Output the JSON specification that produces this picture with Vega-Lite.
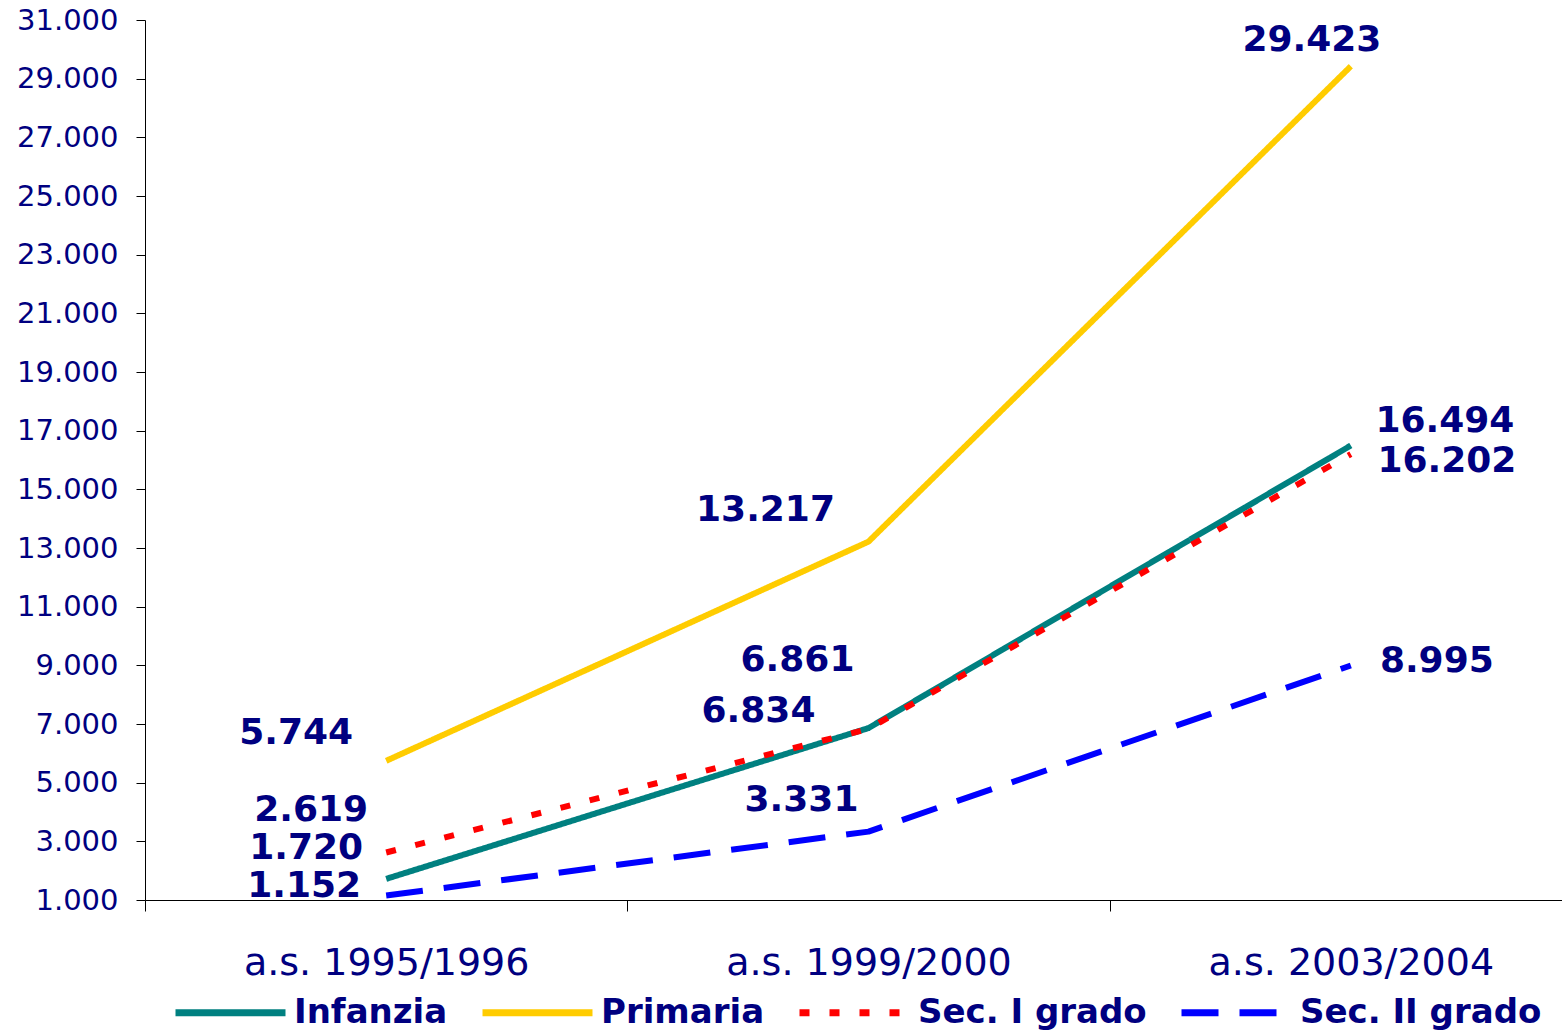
{
  "$schema": "https://vega.github.io/schema/vega-lite/v6.json",
  "width": 1447,
  "height": 880,
  "padding": {"left": 16, "top": 6, "right": 0, "bottom": 0},
  "background": "white",
  "config": {
    "view": {"stroke": null},
    "font": "DejaVu Sans",
    "locale": {"number": {"decimal": ",", "thousands": ".", "grouping": [3], "currency": ["", " €"]}}
  },
  "data": {
    "values": [
      {"a": "a.s. 1995/1996", "s": "Infanzia", "v": 1720},
      {"a": "a.s. 1999/2000", "s": "Infanzia", "v": 6861},
      {"a": "a.s. 2003/2004", "s": "Infanzia", "v": 16494},
      {"a": "a.s. 1995/1996", "s": "Primaria", "v": 5744},
      {"a": "a.s. 1999/2000", "s": "Primaria", "v": 13217},
      {"a": "a.s. 2003/2004", "s": "Primaria", "v": 29423},
      {"a": "a.s. 1995/1996", "s": "Sec. I grado", "v": 2619},
      {"a": "a.s. 1999/2000", "s": "Sec. I grado", "v": 6834},
      {"a": "a.s. 2003/2004", "s": "Sec. I grado", "v": 16202},
      {"a": "a.s. 1995/1996", "s": "Sec. II grado", "v": 1152},
      {"a": "a.s. 1999/2000", "s": "Sec. II grado", "v": 3331},
      {"a": "a.s. 2003/2004", "s": "Sec. II grado", "v": 8995}
    ]
  },
  "encoding": {
    "x": {
      "field": "a",
      "type": "ordinal",
      "sort": null,
      "scale": {"type": "band", "paddingInner": 0, "paddingOuter": 0},
      "axis": {
        "title": null,
        "labelAngle": 0,
        "labelFontSize": 38,
        "labelColor": "#000080",
        "labelPadding": 33,
        "labelLimit": 0,
        "tickBand": "extent",
        "tickSize": 11,
        "tickColor": "#000000",
        "domainColor": "#000000",
        "domainWidth": 1,
        "tickWidth": 1,
        "grid": false
      }
    },
    "y": {
      "field": "v",
      "type": "quantitative",
      "scale": {"domain": [1000, 31000], "nice": false, "zero": false},
      "axis": {
        "title": null,
        "values": [1000, 3000, 5000, 7000, 9000, 11000, 13000, 15000, 17000, 19000, 21000, 23000, 25000, 27000, 29000, 31000],
        "format": ",d",
        "labelFontSize": 29,
        "labelColor": "#000080",
        "labelPadding": 18,
        "tickSize": 9,
        "tickColor": "#000000",
        "domainColor": "#000000",
        "grid": false
      }
    }
  },
  "layer": [
    {
      "mark": {"type": "line", "strokeWidth": 6, "strokeCap": "butt", "strokeJoin": "round"},
      "encoding": {
        "color": {
          "field": "s",
          "type": "nominal",
          "scale": {"domain": ["Infanzia", "Primaria", "Sec. I grado", "Sec. II grado"], "range": ["#008080", "#FFCC00", "#FF0000", "#0000FF"]},
          "legend": {
            "title": null,
            "orient": "none",
            "legendX": 27,
            "legendY": 934,
            "direction": "horizontal",
            "columns": 4,
            "columnPadding": 20,
            "symbolType": "stroke",
            "symbolSize": 12100,
            "symbolStrokeWidth": 7,
            "labelFontSize": 34,
            "labelFontWeight": "bold",
            "labelColor": "#000080",
            "labelOffset": 5,
            "labelLimit": 400
          }
        },
        "strokeDash": {
          "field": "s",
          "type": "nominal",
          "scale": {"domain": ["Infanzia", "Primaria", "Sec. I grado", "Sec. II grado"], "range": [[1, 0], [1, 0], [10, 20], [37, 21]]},
          "legend": null
        }
      }
    },
    {
      "mark": {
        "type": "text",
        "fontSize": 36,
        "fontWeight": "bold",
        "color": "#000080",
        "align": "center",
        "baseline": "middle",
        "dx": {"expr": "datum.s=='Infanzia' ? (datum.a=='a.s. 1995/1996' ? -80 : datum.a=='a.s. 1999/2000' ? -71 : 94) : datum.s=='Primaria' ? (datum.a=='a.s. 1995/1996' ? -90 : datum.a=='a.s. 1999/2000' ? -103 : -39) : datum.s=='Sec. I grado' ? (datum.a=='a.s. 1995/1996' ? -75 : datum.a=='a.s. 1999/2000' ? -110 : 96) : (datum.a=='a.s. 1995/1996' ? -82 : datum.a=='a.s. 1999/2000' ? -67 : 86)"},
        "dy": {"expr": "datum.s=='Infanzia' ? (datum.a=='a.s. 1995/1996' ? -31 : datum.a=='a.s. 1999/2000' ? -68 : -25) : datum.s=='Primaria' ? (datum.a=='a.s. 1995/1996' ? -28 : datum.a=='a.s. 1999/2000' ? -32 : -26) : datum.s=='Sec. I grado' ? (datum.a=='a.s. 1995/1996' ? -43 : datum.a=='a.s. 1999/2000' ? -18 : 7) : (datum.a=='a.s. 1995/1996' ? -10 : datum.a=='a.s. 1999/2000' ? -32 : -4)"}
      },
      "encoding": {
        "text": {"field": "v", "type": "quantitative", "format": ",d"}
      }
    }
  ]
}
